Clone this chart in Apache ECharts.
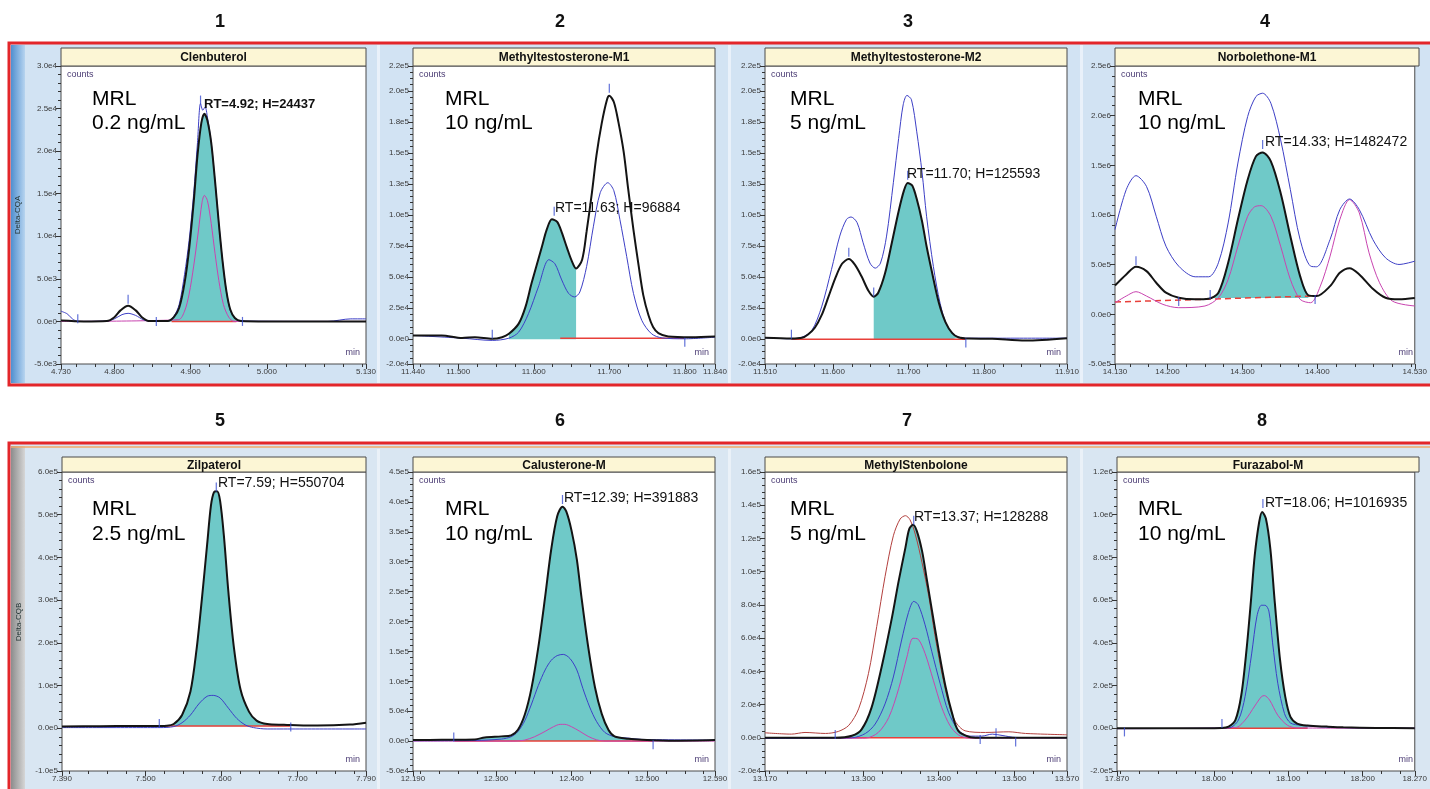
<!DOCTYPE html>
<html>
<head>
<meta charset="utf-8">
<script src="https://cdn.jsdelivr.net/npm/echarts/dist/echarts.min.js"></script>
<style>
html, body { margin: 0; padding: 0; background: #fff; }
#chart { width: 1430px; height: 789px; }
</style>
</head>
<body>
<div id="chart"></div>
<script>
/* global echarts */

// ---- data ----
var names = ['Clenbuterol', 'Methyltestosterone-M1', 'Methyltestosterone-M2', 'Norbolethone-M1',
             'Zilpaterol', 'Calusterone-M', 'MethylStenbolone', 'Furazabol-M'];
var panelNo = ['1', '2', '3', '4', '5', '6', '7', '8'];
var mrl = ['0.2 ng/mL', '10 ng/mL', '5 ng/mL', '10 ng/mL', '2.5 ng/mL', '10 ng/mL', '5 ng/mL', '10 ng/mL'];
var rtText = ['RT=4.92; H=24437', 'RT=11.63; H=96884', 'RT=11.70; H=125593', 'RT=14.33; H=1482472',
              'RT=7.59; H=550704', 'RT=12.39; H=391883', 'RT=13.37; H=128288', 'RT=18.06; H=1016935'];

// x tick labels (min)
var xTicks = [
    [4.73, 4.8, 4.9, 5.0, 5.13],
    [11.44, 11.5, 11.6, 11.7, 11.8, 11.84],
    [11.51, 11.6, 11.7, 11.8, 11.91],
    [14.13, 14.2, 14.3, 14.4, 14.53],
    [7.39, 7.5, 7.6, 7.7, 7.79],
    [12.19, 12.3, 12.4, 12.5, 12.59],
    [13.17, 13.3, 13.4, 13.5, 13.57],
    [17.87, 18.0, 18.1, 18.2, 18.27]
];
// y tick labels, in units of yUnit
var yUnit = [1e3, 1e3, 1e3, 1e6, 1e3, 1e3, 1e3, 1e3];
var yTicks = [
    [-5, 0, 5, 10, 15, 20, 25, 30],
    [-20, 0, 25, 50, 75, 100, 125, 150, 175, 200, 220],
    [-20, 0, 25, 50, 75, 100, 125, 150, 175, 200, 220],
    [-0.5, 0, 0.5, 1, 1.5, 2, 2.5],
    [-100, 0, 100, 200, 300, 400, 500, 600],
    [-50, 0, 50, 100, 150, 200, 250, 300, 350, 400, 450],
    [-20, 0, 20, 40, 60, 80, 100, 120, 140, 160],
    [-200, 0, 200, 400, 600, 800, 1000, 1200]
];
var yMinorStep = [1, 5, 5, 0.1, 20, 10, 4, 40];

// 1 Clenbuterol (x1e3 counts)
var p1Black = [[4.730, 0.1], [4.760, 0], [4.790, 0.05], [4.800, 0.5], [4.808, 1.3], [4.818, 1.85], [4.828, 1.3],
    [4.836, 0.5], [4.845, 0.05], [4.870, 0.05], [4.878, 0.5], [4.885, 1.6], [4.892, 4.5], [4.898, 8.5], [4.904, 14],
    [4.909, 19.5], [4.914, 23.3], [4.918, 24.4], [4.922, 23.6], [4.927, 21], [4.932, 16.5], [4.937, 11.5],
    [4.942, 7], [4.947, 3.5], [4.952, 1.4], [4.958, 0.4], [4.966, 0.05], [5.000, 0], [5.130, 0]];
var p1Blue = [[4.730, 1.2], [4.738, 0.9], [4.745, 0.3], [4.752, 0], [4.790, 0.05], [4.800, 0.3], [4.810, 0.8],
    [4.818, 0.95], [4.828, 0.7], [4.838, 0.2], [4.850, 0], [4.870, 0.05], [4.878, 0.6], [4.885, 2.0], [4.892, 5.5],
    [4.898, 9.5], [4.904, 15], [4.909, 21], [4.913, 25.6], [4.916, 24.8], [4.919, 25.2], [4.922, 24], [4.927, 21],
    [4.932, 16.5], [4.937, 11.5], [4.942, 7], [4.947, 3.5], [4.952, 1.3], [4.958, 0.4], [4.966, 0.05], [5.080, 0],
    [5.110, 0.3], [5.130, 0.3]];
var p1Magenta = [[4.730, 0], [4.884, 0.2], [4.892, 1.2], [4.898, 3.2], [4.904, 6.5], [4.910, 10.5], [4.915, 14],
    [4.918, 14.8], [4.922, 14.2], [4.927, 11.5], [4.932, 8], [4.937, 4.8], [4.943, 2], [4.950, 0.5], [4.957, 0],
    [5.130, 0]];
var p1Base = [[4.875, 0], [4.960, 0]];
var p1Marks = [[4.752, 0.3], [4.818, 2.6], [4.855, 0], [4.913, 26], [4.968, 0]];

// 2 Methyltestosterone-M1 (x1e3)
var p2Black = [[11.440, 3], [11.478, 3], [11.505, 1], [11.522, 1.6], [11.545, 0.3], [11.558, 1.6], [11.567, 4.3],
    [11.580, 12.5], [11.589, 26], [11.597, 45], [11.611, 75], [11.617, 88], [11.624, 96.5], [11.631, 94.4],
    [11.637, 86], [11.644, 73.5], [11.650, 63.5], [11.656, 57], [11.664, 64], [11.670, 87], [11.677, 118],
    [11.683, 148], [11.690, 174], [11.697, 193], [11.700, 196], [11.706, 191], [11.712, 175], [11.719, 151],
    [11.725, 121], [11.732, 88], [11.739, 58.6], [11.745, 35.5], [11.752, 19], [11.758, 9.8], [11.765, 4.9],
    [11.778, 2.2], [11.809, 1.6], [11.840, 2.2]];
var p2Blue = [[11.440, 3], [11.505, 0.8], [11.545, -1], [11.567, 0.8], [11.580, 5.7], [11.593, 20.6], [11.606, 42],
    [11.620, 64], [11.628, 60.7], [11.637, 47.7], [11.646, 36.9], [11.654, 34], [11.661, 38], [11.670, 58.6],
    [11.679, 91], [11.688, 118], [11.698, 126], [11.706, 119.6], [11.714, 96.5], [11.723, 66.7], [11.732, 36.9],
    [11.743, 15.2], [11.756, 4.3], [11.770, 1], [11.800, 0.3], [11.840, 1.6]];
var p2Base = [[11.635, 0.8], [11.800, 0.8]];
var p2Marks = [[11.545, 4], [11.627, 103], [11.700, 202], [11.800, -2.5]];

// 3 Methyltestosterone-M2 (x1e3)
var p3Black = [[11.510, 1.1], [11.545, 0.5], [11.559, 1.1], [11.567, 3.8], [11.576, 9.2], [11.585, 19.3],
    [11.594, 34], [11.603, 49], [11.612, 60.7], [11.621, 64.5], [11.629, 60], [11.638, 50.4], [11.647, 39],
    [11.654, 34.2], [11.660, 37.4], [11.669, 53], [11.678, 77.6], [11.687, 103], [11.694, 119.6], [11.699, 125.8],
    [11.705, 123.7], [11.711, 112.8], [11.718, 95], [11.724, 74.8], [11.731, 54.5], [11.740, 30], [11.749, 13.8],
    [11.758, 4.9], [11.766, 1.6], [11.780, 0.5], [11.811, 0.3], [11.855, -1.1], [11.910, 0.8]];
var p3Blue = [[11.510, 1.1], [11.545, 0.3], [11.559, 1.6], [11.572, 7], [11.585, 26], [11.598, 56], [11.609, 83],
    [11.618, 96.5], [11.624, 98.4], [11.632, 93.8], [11.640, 77.6], [11.649, 61.3], [11.656, 57.2], [11.663, 61.3],
    [11.671, 83], [11.680, 126], [11.687, 161.6], [11.693, 188.7], [11.698, 196.3], [11.704, 192.8], [11.711, 167],
    [11.718, 134.5], [11.724, 99], [11.733, 58.6], [11.742, 28.7], [11.751, 11], [11.762, 3], [11.775, 0.8],
    [11.910, 0.8]];
var p3Base = [[11.545, 0], [11.776, 0]];
var p3Marks = [[11.545, 4], [11.621, 70], [11.654, 38], [11.699, 132], [11.776, -3]];

// 4 Norbolethone-M1 (x1e6)
var p4Black = [[14.130, 0.291], [14.145, 0.402], [14.158, 0.479], [14.172, 0.435], [14.185, 0.318], [14.198, 0.218],
    [14.215, 0.167], [14.237, 0.151], [14.255, 0.157], [14.268, 0.218], [14.281, 0.519], [14.294, 0.954],
    [14.307, 1.355], [14.318, 1.590], [14.327, 1.630], [14.338, 1.540], [14.351, 1.222], [14.364, 0.786],
    [14.377, 0.385], [14.388, 0.191], [14.399, 0.184], [14.417, 0.284], [14.430, 0.418], [14.443, 0.465],
    [14.456, 0.402], [14.474, 0.258], [14.491, 0.167], [14.509, 0.151], [14.530, 0.164]];
var p4Blue = [[14.130, 0.853], [14.145, 1.255], [14.158, 1.396], [14.172, 1.288], [14.185, 0.987], [14.198, 0.686],
    [14.215, 0.485], [14.237, 0.378], [14.255, 0.378], [14.268, 0.519], [14.281, 0.920], [14.294, 1.523],
    [14.307, 1.991], [14.318, 2.192], [14.327, 2.226], [14.338, 2.125], [14.351, 1.757], [14.364, 1.255],
    [14.377, 0.753], [14.391, 0.485], [14.399, 0.479], [14.417, 0.753], [14.430, 1.054], [14.443, 1.161],
    [14.456, 1.054], [14.474, 0.753], [14.491, 0.569], [14.509, 0.502], [14.530, 0.535]];
var p4Magenta = [[14.130, 0.117], [14.145, 0.184], [14.158, 0.228], [14.172, 0.184], [14.194, 0.100],
    [14.215, 0.067], [14.250, 0.084], [14.268, 0.167], [14.281, 0.351], [14.294, 0.686], [14.307, 0.987],
    [14.316, 1.081], [14.325, 1.094], [14.338, 0.987], [14.351, 0.686], [14.364, 0.351], [14.377, 0.151],
    [14.391, 0.117], [14.404, 0.284], [14.417, 0.586], [14.430, 0.954], [14.443, 1.155], [14.456, 1.021],
    [14.469, 0.619], [14.483, 0.318], [14.500, 0.134], [14.530, 0.084]];
var p4Base = [[14.130, 0.124], [14.391, 0.184]];
var p4Marks = [[14.158, 0.54], [14.215, 0.13], [14.257, 0.2], [14.327, 1.71], [14.397, 0.15]];

// 5 Zilpaterol (x1e3)
var p5Black = [[7.390, 4], [7.440, 5], [7.484, 5.5], [7.519, 5.5], [7.528, 6], [7.537, 10], [7.548, 31], [7.559, 86],
    [7.567, 184], [7.574, 302], [7.581, 431], [7.586, 522], [7.590, 553], [7.594, 555], [7.598, 533], [7.603, 451],
    [7.609, 318], [7.616, 192], [7.625, 90], [7.636, 39], [7.646, 18], [7.660, 10], [7.682, 8], [7.690, 7.5],
    [7.726, 6.3], [7.769, 8.6], [7.790, 13]];
var p5Blue = [[7.390, 1.6], [7.519, 1.6], [7.537, 4], [7.548, 13], [7.559, 31], [7.570, 57], [7.581, 75],
    [7.589, 77], [7.598, 71], [7.609, 47], [7.620, 23], [7.631, 8], [7.642, 1.6], [7.660, -1.6], [7.790, -1.6]];
var p5Base = [[7.519, 5.5], [7.690, 5.5]];
var p5Marks = [[7.518, 11], [7.593, 565], [7.691, 3]];

// 6 Calusterone-M (x1e3)
var p6Black = [[12.190, 1.7], [12.228, 2.2], [12.272, 2.8], [12.285, 6.2], [12.307, 7.9], [12.320, 9.6],
    [12.329, 19], [12.338, 44], [12.347, 89], [12.356, 157], [12.365, 241], [12.373, 320], [12.381, 376],
    [12.388, 392], [12.393, 384], [12.400, 352], [12.407, 304], [12.413, 242], [12.422, 158], [12.431, 90],
    [12.440, 45.5], [12.449, 18.5], [12.457, 7.9], [12.475, 3.9], [12.493, 2.2], [12.537, 0.6], [12.590, 1.7]];
var p6Blue = [[12.190, 0.6], [12.272, 1.1], [12.307, 3.4], [12.320, 7.3], [12.329, 16], [12.338, 34], [12.347, 62],
    [12.356, 93], [12.365, 119], [12.373, 135], [12.381, 143], [12.389, 145], [12.398, 138], [12.407, 119],
    [12.415, 88], [12.424, 57], [12.433, 33], [12.444, 14.6], [12.457, 7.3], [12.475, 5], [12.493, 2.8],
    [12.590, 1.7]];
var p6Magenta = [[12.190, 0], [12.325, 0], [12.338, 1.7], [12.351, 7.3], [12.365, 16.3], [12.376, 24],
    [12.385, 28], [12.391, 28], [12.400, 24], [12.411, 16.3], [12.422, 7.9], [12.433, 2.2], [12.444, 0],
    [12.590, 0]];
var p6Base = [[12.245, 0], [12.508, 0]];
var p6Marks = [[12.244, 7], [12.388, 404], [12.508, -6]];

// 7 MethylStenbolone (x1e3)
var p7Black = [[13.170, 0], [13.263, 0], [13.285, 1.2], [13.298, 5.1], [13.311, 18], [13.325, 43.7], [13.338, 72],
    [13.347, 94.3], [13.356, 114.5], [13.361, 125.6], [13.366, 128.2], [13.371, 124.6], [13.378, 112.5],
    [13.384, 96.3], [13.391, 77], [13.400, 52.8], [13.409, 31], [13.418, 14.4], [13.426, 4.2], [13.440, 0.6],
    [13.453, 0], [13.570, 0]];
var p7Brown = [[13.170, 3], [13.205, 2.2], [13.223, 3.2], [13.250, 2.6], [13.267, 3.8], [13.281, 7.5],
    [13.294, 17.4], [13.307, 38.6], [13.318, 67], [13.329, 97], [13.340, 121.6], [13.349, 131.7], [13.356, 133.7],
    [13.362, 131.3], [13.369, 122.6], [13.378, 105.4], [13.387, 85], [13.395, 62], [13.404, 39.6], [13.413, 21.4],
    [13.422, 9.9], [13.435, 4.2], [13.462, 3.2], [13.493, 3.6], [13.515, 2.6], [13.570, 1.8]];
var p7Blue = [[13.170, -0.4], [13.285, 0], [13.303, 2.6], [13.316, 8.3], [13.329, 20.4], [13.340, 36.6],
    [13.351, 58.9], [13.360, 75.4], [13.367, 82.1], [13.373, 80.1], [13.382, 68], [13.391, 51.8], [13.402, 32.6],
    [13.413, 15.4], [13.426, 4.7], [13.440, 1], [13.457, 1], [13.471, 2.2], [13.484, 1.4], [13.502, 0.2],
    [13.570, 0]];
var p7Magenta = [[13.170, -0.4], [13.303, -0.2], [13.320, 3.2], [13.334, 12.3], [13.347, 29.5], [13.358, 48.7],
    [13.366, 59.9], [13.373, 59.3], [13.382, 50.8], [13.393, 34.6], [13.404, 18.4], [13.415, 7.3], [13.426, 1.8],
    [13.440, -0.2], [13.570, -0.2]];
var p7Base = [[13.263, 0], [13.455, 0]];
var p7Marks = [[13.263, 2], [13.367, 131], [13.455, -1], [13.476, 3], [13.502, -2.5]];

// 8 Furazabol-M (x1e3)
var p8Black = [[17.870, 0], [17.954, 0], [18.011, 1.6], [18.020, 7.9], [18.029, 38], [18.037, 156], [18.044, 368],
    [18.050, 600], [18.055, 809], [18.061, 966], [18.065, 1013], [18.070, 982], [18.076, 840], [18.082, 588],
    [18.089, 321], [18.096, 148], [18.103, 53], [18.112, 22], [18.126, 12.6], [18.152, 7.9], [18.174, 4.7],
    [18.218, 1.6], [18.270, 0]];
var p8Blue = [[17.870, -1.6], [18.020, 1.6], [18.033, 38], [18.042, 148], [18.051, 352], [18.058, 525],
    [18.064, 576], [18.069, 576], [18.074, 549], [18.079, 400], [18.086, 211], [18.095, 69], [18.103, 25],
    [18.117, 14], [18.139, 7.9], [18.174, 3], [18.270, 0]];
var p8Magenta = [[17.870, -1.6], [18.029, 3], [18.042, 38], [18.055, 104], [18.064, 148], [18.068, 153],
    [18.075, 132], [18.086, 61], [18.099, 14], [18.112, 1.6], [18.270, 0]];
var p8Base = [[18.011, 0], [18.126, 0]];
var p8Marks = [[17.880, -17], [18.011, 22], [18.066, 1052]];

// integration windows [start, end, level of baseline]
var fillRange = [[4.870, 4.966, 0], [11.567, 11.656, 0], [11.654, 11.766, 0], [14.255, 14.388, 0.165],
                 [7.519, 7.690, 5], [12.272, 12.493, 0], [13.263, 13.453, 0], [18.011, 18.126, 0]];

// ---- layout ----
var grids = [
    {left: 61, top: 66, width: 305, height: 298}, {left: 413, top: 66, width: 302, height: 298},
    {left: 765, top: 66, width: 302, height: 298}, {left: 1115, top: 66, width: 304, height: 298},
    {left: 62, top: 472, width: 304, height: 299}, {left: 413, top: 472, width: 302, height: 299},
    {left: 765, top: 472, width: 302, height: 299}, {left: 1117, top: 472, width: 302, height: 299}
];
var titleBar = [{top: 48, h: 18}, {top: 457, h: 15}];
var noPos = [[220, 22], [560, 22], [908, 22], [1265, 22], [220, 421], [560, 421], [907, 421], [1262, 421]];
var mrlX = [92, 445, 790, 1138, 92, 445, 790, 1138];
var mrlY = [[99, 123], [509, 534]];
var rtPos = [[204, 104], [555, 208], [907, 174], [1265, 142], [218, 483], [564, 498], [914, 517], [1265, 503]];

var panels = [
    {black: p1Black, blue: p1Blue, magenta: p1Magenta, base: p1Base, marks: p1Marks},
    {black: p2Black, blue: p2Blue, base: p2Base, marks: p2Marks},
    {black: p3Black, blue: p3Blue, base: p3Base, marks: p3Marks},
    {black: p4Black, blue: p4Blue, magenta: p4Magenta, base: p4Base, marks: p4Marks, dashed: true},
    {black: p5Black, blue: p5Blue, base: p5Base, marks: p5Marks},
    {black: p6Black, blue: p6Blue, magenta: p6Magenta, base: p6Base, marks: p6Marks},
    {black: p7Black, blue: p7Blue, magenta: p7Magenta, brown: p7Brown, base: p7Base, marks: p7Marks},
    {black: p8Black, blue: p8Blue, magenta: p8Magenta, base: p8Base, marks: p8Marks}
];

var FONT = 'Liberation Sans, Arial, sans-serif';

function steps(min, max, step) {
    var out = [];
    for (var k = Math.ceil(min / step - 1e-6); k * step <= max + 1e-9; k++) {
        out.push(Math.round(k * step * 1e6) / 1e6);
    }
    return out;
}

function inRange(pts, r) {
    return pts.filter(function (p) { return p[0] >= r[0] - 1e-9 && p[0] <= r[1] + 1e-9; });
}

function lineSeries(i, data, color, width, extra) {
    var s = {
        type: 'line', xAxisIndex: 2 * i, yAxisIndex: 2 * i, data: data,
        smooth: 0.3, symbol: 'none', silent: true,
        lineStyle: {color: color, width: width}
    };
    for (var k in extra) s[k] = extra[k];
    return s;
}

var grid = [], xAxis = [], yAxis = [], series = [], graphic = [];

graphic.push(
    {type: 'rect', z: -10, shape: {x: 9, y: 43, width: 1430, height: 342}, style: {fill: '#d2e3f3', stroke: '#e3262a', lineWidth: 3}},
    {type: 'rect', z: -10, shape: {x: 9, y: 443, width: 1430, height: 360}, style: {fill: '#d9e6f2', stroke: '#e3262a', lineWidth: 3}},
    {type: 'rect', z: -9, shape: {x: 11, y: 45, width: 14, height: 338},
        style: {fill: new echarts.graphic.LinearGradient(0, 0, 1, 0, [{offset: 0, color: '#4f8fd0'}, {offset: 1, color: '#b7d4ef'}])}},
    {type: 'rect', z: -9, shape: {x: 11, y: 446, width: 14, height: 345},
        style: {fill: new echarts.graphic.LinearGradient(0, 0, 1, 0, [{offset: 0, color: '#8c8c8c'}, {offset: 1, color: '#d6d6d6'}])}},
    {type: 'line', z: -9, shape: {x1: 11, y1: 447, x2: 1430, y2: 447}, style: {stroke: '#f0a868', lineWidth: 1.5}},
    {type: 'text', z: 50, x: 18, y: 215, rotation: Math.PI / 2,
        style: {text: 'Delta-CQA', font: '8px ' + FONT, fill: '#233', align: 'center', verticalAlign: 'middle'}},
    {type: 'text', z: 50, x: 19, y: 622, rotation: Math.PI / 2,
        style: {text: 'Delta-CQB', font: '8px ' + FONT, fill: '#233', align: 'center', verticalAlign: 'middle'}}
);
[377, 728, 1080].forEach(function (x) {
    graphic.push({type: 'rect', z: -9, shape: {x: x, y: 45, width: 3, height: 338}, style: {fill: '#e9f1fa'}});
    graphic.push({type: 'rect', z: -9, shape: {x: x, y: 449, width: 3, height: 340}, style: {fill: '#eaf1f8'}});
});

panels.forEach(function (p, i) {
    var g = grids[i];
    var row = i < 4 ? 0 : 1;
    var xs = xTicks[i], ys = yTicks[i];
    var xMin = xs[0], xMax = xs[xs.length - 1];
    var yMin = ys[0], yMax = ys[ys.length - 1];
    var unit = yUnit[i];

    grid.push({left: g.left, top: g.top, width: g.width, height: g.height, show: true,
        backgroundColor: '#fff', borderColor: '#4a4a4a', borderWidth: 1});

    xAxis.push({
        type: 'value', gridIndex: i, position: 'bottom', min: xMin, max: xMax,
        axisLine: {show: false, onZero: false}, splitLine: {show: false},
        axisTick: {customValues: xs, length: 5, lineStyle: {color: '#333'}},
        axisLabel: {customValues: xs, formatter: function (v) { return v.toFixed(3); },
            fontSize: 8, fontFamily: FONT, color: '#3a3a3a', margin: 4, showMinLabel: true, showMaxLabel: true}
    }, {
        type: 'value', gridIndex: i, position: 'bottom', min: xMin, max: xMax,
        axisLine: {show: false, onZero: false}, splitLine: {show: false}, axisLabel: {show: false},
        axisTick: {customValues: steps(xMin, xMax, 0.025), length: 3, lineStyle: {color: '#333'}}
    });
    yAxis.push({
        type: 'value', gridIndex: i, position: 'left', min: yMin, max: yMax,
        axisLine: {show: false, onZero: false}, splitLine: {show: false},
        axisTick: {customValues: ys, length: 5, lineStyle: {color: '#333'}},
        axisLabel: {customValues: ys, formatter: function (v) {
            return (v * unit).toExponential(1).replace('+', '');
        }, fontSize: 8, fontFamily: FONT, color: '#3a3a3a', margin: 4, showMinLabel: true, showMaxLabel: true}
    }, {
        type: 'value', gridIndex: i, position: 'left', min: yMin, max: yMax,
        axisLine: {show: false, onZero: false}, splitLine: {show: false}, axisLabel: {show: false},
        axisTick: {customValues: steps(yMin, yMax, yMinorStep[i]), length: 3, lineStyle: {color: '#333'}}
    });

    var fr = fillRange[i];
    series.push(lineSeries(i, inRange(p.black, fr), '#6fc9c8', 0,
        {z: 1, areaStyle: {color: '#6fc9c8', opacity: 1, origin: fr[2]}}));
    series.push({type: 'line', xAxisIndex: 2 * i, yAxisIndex: 2 * i, data: p.base, symbol: 'none', silent: true, z: 2,
        lineStyle: {color: '#e8403a', width: 1.5, type: p.dashed ? [6, 4] : 'solid'}});
    if (p.magenta) series.push(lineSeries(i, p.magenta, '#c944b0', 1, {z: 3}));
    if (p.brown) series.push(lineSeries(i, p.brown, '#b3403e', 1, {z: 3}));
    series.push(lineSeries(i, p.blue, '#3d3fc6', 1, {z: 4}));
    series.push(lineSeries(i, p.black, '#141414', 2, {z: 5}));
    series.push({type: 'scatter', xAxisIndex: 2 * i, yAxisIndex: 2 * i, data: p.marks, silent: true, z: 6,
        symbol: 'rect', symbolSize: [1.2, 9], itemStyle: {color: '#3b4fd0'}});

    // title bar and annotations
    var tb = titleBar[row];
    graphic.push(
        {type: 'rect', z: 20, shape: {x: g.left, y: tb.top, width: g.width, height: tb.h},
            style: {fill: '#fcf6d5', stroke: '#4a4a4a', lineWidth: 1}},
        {type: 'text', z: 21, x: g.left + g.width / 2, y: tb.top + tb.h / 2 + 1,
            style: {text: names[i], font: 'bold 12px ' + FONT, fill: '#111', align: 'center', verticalAlign: 'middle'}},
        {type: 'text', z: 21, x: g.left + 6, y: g.top + 9,
            style: {text: 'counts', font: '9px ' + FONT, fill: '#4b3c74', verticalAlign: 'middle'}},
        {type: 'text', z: 21, x: g.left + g.width - 6, y: g.top + g.height - 11,
            style: {text: 'min', font: '9px ' + FONT, fill: '#4b3c74', align: 'right', verticalAlign: 'middle'}},
        {type: 'text', z: 21, x: noPos[i][0], y: noPos[i][1],
            style: {text: panelNo[i], font: 'bold 18px ' + FONT, fill: '#111', align: 'center', verticalAlign: 'middle'}},
        {type: 'text', z: 21, x: mrlX[i], y: mrlY[row][0],
            style: {text: 'MRL', font: '21px ' + FONT, fill: '#000', verticalAlign: 'middle'}},
        {type: 'text', z: 21, x: mrlX[i], y: mrlY[row][1],
            style: {text: mrl[i], font: '21px ' + FONT, fill: '#000', verticalAlign: 'middle'}},
        {type: 'text', z: 21, x: rtPos[i][0], y: rtPos[i][1],
            style: {text: rtText[i], font: (i === 0 ? 'bold 13px ' : '14px ') + FONT, fill: '#111', verticalAlign: 'middle'}}
    );
});

var myChart = echarts.init(document.getElementById('chart'));
myChart.setOption({
    animation: false,
    backgroundColor: '#fff',
    grid: grid,
    xAxis: xAxis,
    yAxis: yAxis,
    series: series,
    graphic: graphic
});
</script>
</body>
</html>
